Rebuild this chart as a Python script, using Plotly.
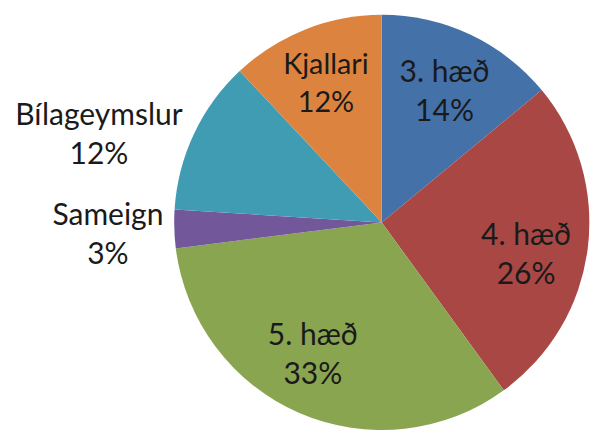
import plotly.graph_objects as go

labels = ["3. hæð", "4. hæð", "5. hæð", "Sameign", "Bílageymslur", "Kjallari"]
values = [14, 26, 33, 3, 12, 12]
colors = ["#4571A9", "#A94745", "#89A550", "#72589A", "#3F9CB3", "#DC843F"]
small_pos = ["inside", "none", "none", "none", "none", "inside"]
big_pos = ["none", "inside", "inside", "none", "none", "none"]
outside_pos = ["none", "none", "none", "outside", "outside", "none"]

domain = dict(x=[175 / 595, 1], y=[0, 420 / 435])
label_domain = dict(x=[183 / 595, 1], y=[0, 412 / 435])
clear = ["rgba(0,0,0,0)"] * len(values)
font = dict(family="Lato", size=30, color="#1a1a1a")
common = dict(labels=labels, values=values, sort=False,
              direction="clockwise", showlegend=False)
label_style = dict(
    marker=dict(colors=clear, line=dict(width=0)),
    texttemplate="%{label}<br>%{percent:.0%}",
    insidetextorientation="horizontal",
    textfont=font,
    hoverinfo="skip",
)

# Coloured slices (no text)
base = go.Pie(
    **common,
    rotation=0,
    marker=dict(colors=colors, line=dict(width=0)),
    textinfo="none",
    domain=domain,
    hoverinfo="label+percent",
)

# Transparent overlays carrying the data labels
small_labels = go.Pie(**common, **label_style, rotation=0, hole=0.42,
                      textposition=small_pos, domain=domain)
big_labels = go.Pie(**common, **label_style, rotation=4.5, hole=0.42,
                    textposition=big_pos, domain=domain)
outside_labels = go.Pie(**common, **label_style, rotation=0,
                        textposition=outside_pos, domain=label_domain)

fig = go.Figure([base, small_labels, big_labels, outside_labels])

fig.update_layout(
    width=595, height=435,
    margin=dict(l=0, r=0, t=0, b=0),
    paper_bgcolor="white",
    plot_bgcolor="white",
)

fig.write_html(
    "out.html",
    config={"displayModeBar": False},
    post_script="document.body.style.margin='0';document.body.style.overflow='hidden';",
)
